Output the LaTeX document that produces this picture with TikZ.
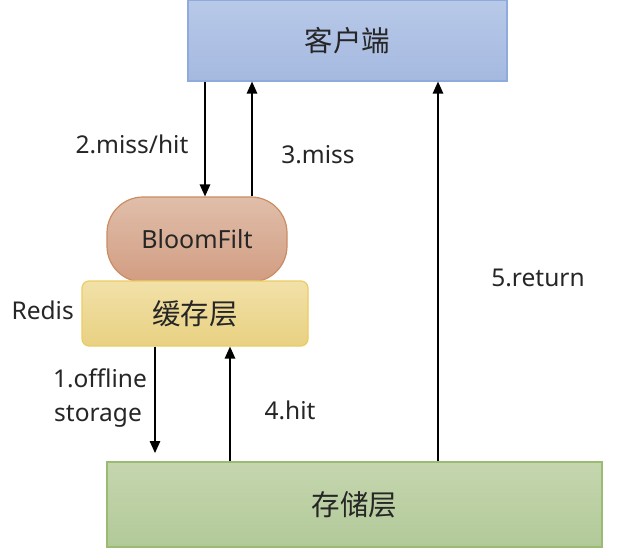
\documentclass[tikz,border=0pt]{standalone}
\usepackage{fontspec}
\setmainfont{Noto Sans}
\newfontfamily\cjk{Noto Sans CJK SC}
\usetikzlibrary{arrows.meta,calc}
\definecolor{txt}{HTML}{262626}
\tikzset{
  box/.style={draw, line width=1.2pt, minimum width=#1, inner sep=0pt, text=txt},
  lbl/.style={text=txt, font=\fontsize{24.5}{28}\selectfont, inner sep=0pt},
  arr/.style={-{Triangle[length=12pt,width=10.5pt]}, line width=1.4pt, black},
}
\begin{document}
\begin{tikzpicture}[x=1pt,y=-1pt]
\useasboundingbox (0,0) rectangle (631,549);
\node[box=319pt, minimum height=81pt, top color={rgb,255:red,184;green,201;blue,232}, bottom color={rgb,255:red,165;green,185;blue,224}, draw={rgb,255:red,143;green,170;blue,220}, font=\cjk\fontsize{28.5}{32}\selectfont] (client) at (347.5,40.5) {客户端};
\node[box=180pt, minimum height=85pt, rounded corners=36pt, top color={rgb,255:red,224;green,190;blue,170}, bottom color={rgb,255:red,210;green,157;blue,130}, draw={rgb,255:red,203;green,140;blue,98}, font=\fontsize{25}{29}\selectfont] (bloom) at (197,239.5) {BloomFilt};
\node[box=226pt, minimum height=65pt, rounded corners=7pt, top color={rgb,255:red,242;green,225;blue,168}, bottom color={rgb,255:red,232;green,209;blue,130}, draw={rgb,255:red,235;green,205;blue,100}, font=\cjk\fontsize{28.5}{32}\selectfont] (cache) at (195,313.5) {缓存层};
\node[box=495pt, minimum height=85pt, top color={rgb,255:red,197;green,214;blue,174}, bottom color={rgb,255:red,178;green,201;blue,153}, draw={rgb,255:red,155;green,187;blue,114}, font=\cjk\fontsize{28.5}{32}\selectfont] (store) at (354.5,504.5) {存储层};
\node[lbl, anchor=east] (redis) at (74,310) {Redis};
\coordinate (x2) at (205,0);
\coordinate (x3) at (252,0);
\coordinate (x5) at (438,0);
\coordinate (x1) at (155,0);
\coordinate (x4) at (230,0);
\coordinate (off) at (155,453);
\draw[arr] (x2 |- client.south) -- (x2 |- bloom.north);
\draw[arr] (x3 |- bloom.north) -- (x3 |- client.south);
\draw[arr] (x5 |- store.north) -- (x5 |- client.south);
\draw[arr] (x1 |- cache.south) -- (off);
\draw[arr] (x4 |- store.north) -- (x4 |- cache.south);
\node[lbl] (l2) at (132,144) {2.miss/hit};
\node[lbl] (l3) at (318,155) {3.miss};
\node[lbl] (l5) at (538,278) {5.return};
\node[lbl] (l1a) at (100,378) {1.offline};
\node[lbl] (l1b) at (98,416) {storage};
\node[lbl] (l4) at (290,410) {4.hit};
\end{tikzpicture}
\end{document}
